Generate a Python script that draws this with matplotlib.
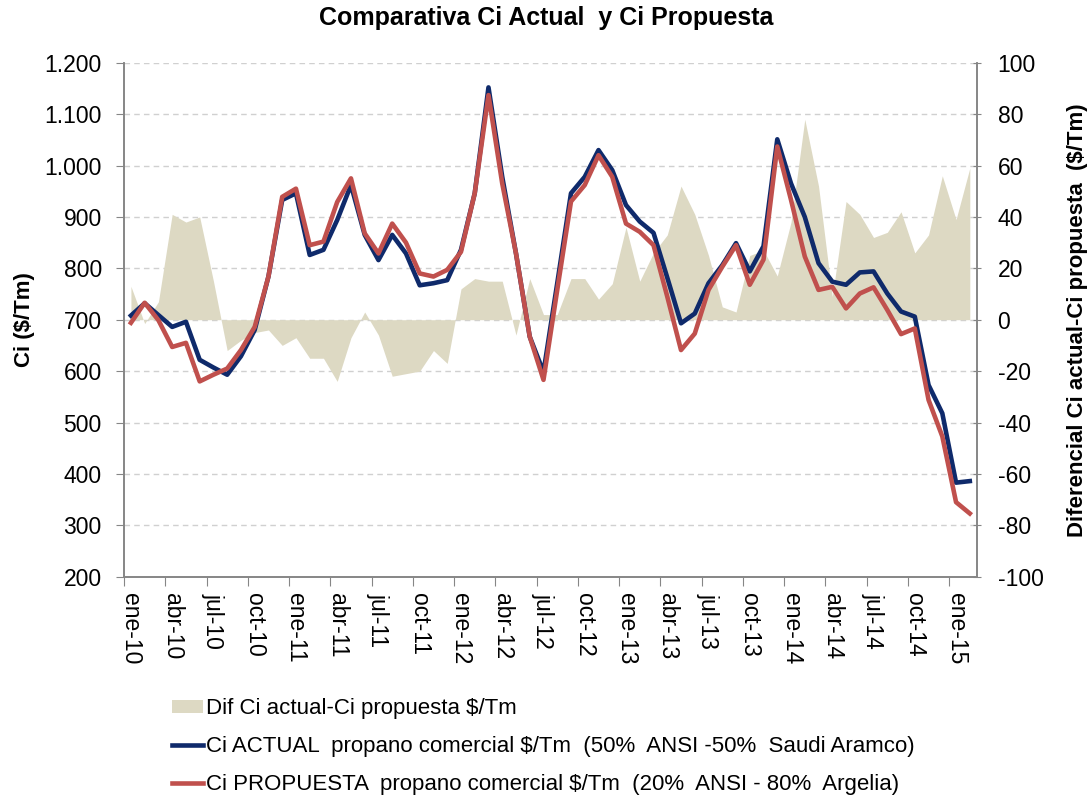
import matplotlib
matplotlib.use("Agg")
import matplotlib.pyplot as plt
from matplotlib.patches import Patch
from matplotlib.lines import Line2D
from matplotlib.ticker import FuncFormatter, MultipleLocator
import numpy as np

plt.rcParams['font.family'] = ['Liberation Sans', 'DejaVu Sans']
plt.rcParams['axes.unicode_minus'] = False

# etiquetas trimestrales del eje x (ene-10 ... ene-15)
tick_labels = ['ene-10', 'abr-10', 'jul-10', 'oct-10',
               'ene-11', 'abr-11', 'jul-11', 'oct-11',
               'ene-12', 'abr-12', 'jul-12', 'oct-12',
               'ene-13', 'abr-13', 'jul-13', 'oct-13',
               'ene-14', 'abr-14', 'jul-14', 'oct-14',
               'ene-15']

# datos mensuales ene-10 ... feb-15
ci_actual = [708, 732, 709, 686, 696, 622, 607, 593, 629, 680, 784, 933,
             946, 826, 836, 894, 962, 865, 816, 865, 829, 767, 771, 777,
             836, 946, 1152, 978, 829, 667, 598, 771, 946, 978, 1030, 991,
             923, 891, 869, 782, 693, 712, 771, 806, 849, 794, 843, 1051,
             965, 900, 810, 774, 768, 792, 794, 751, 716, 706, 573, 518,
             383, 386]

ci_propuesta = [694, 733, 699, 647, 655, 580, 593, 605, 641, 686, 784, 939,
                955, 845, 852, 929, 975, 868, 829, 887, 850, 790, 784, 797,
                832, 946, 1137, 965, 829, 667, 583, 758, 930, 962, 1020, 978,
                887, 871, 845, 745, 641, 673, 758, 803, 845, 768, 817, 1037,
                933, 823, 758, 764, 722, 751, 763, 719, 672, 683, 544, 473,
                345, 323]

dif = [13, -1.5, 7, 41, 38, 40, 15, -12, -8, -5, -4, -10,
       -7, -15, -15, -24, -7, 3, -6, -22, -21, -20, -12, -17,
       12, 16, 15, 15, -6, 16, 2, 2, 16, 16, 8, 14,
       36, 15, 26, 33, 52, 41, 25, 5, 3, 25, 27, 17,
       38, 78, 52, 9, 46, 41, 32, 34, 42, 26, 33, 56,
       39, 59]

x = np.arange(len(ci_actual)) + 0.5

c_azul = '#0F2A6B'
c_rojo = '#C0504D'
c_area = '#DDD9C3'
c_eje = '#868686'

fig = plt.figure(figsize=(10.92, 7.96), dpi=100)
ax = fig.add_axes([0.1136, 0.2755, 0.7808, 0.6457])
ax2 = ax.twinx()
ax.set_zorder(ax2.get_zorder() + 1)
ax.patch.set_visible(False)

# area de diferencia (eje derecho), detras de las lineas
ax2.fill_between(x, dif, 0, color=c_area, lw=0, zorder=2)
ax2.set_ylim(-100, 100)
ax2.yaxis.set_major_locator(MultipleLocator(20))
ax2.set_axisbelow(True)
ax2.grid(axis='y', color='#D0D0D0', ls=(0, (4, 3)), lw=1)

ax.plot(x, ci_actual, color=c_azul, lw=3.3, solid_joinstyle='round')
ax.plot(x, ci_propuesta, color=c_rojo, lw=3.3, solid_joinstyle='round')
ax.set_ylim(200, 1200)
ax.set_xlim(0, 62)
ax.yaxis.set_major_locator(MultipleLocator(100))
ax.yaxis.set_major_formatter(FuncFormatter(lambda v, p: f"{int(v):,}".replace(',', '.')))

ax.set_xticks(np.arange(0, 61, 3))
ax.set_xticklabels([])
ax.set_xticks(np.arange(0, 61, 3) + 0.5, minor=True)
ax.set_xticklabels(tick_labels, minor=True, rotation=270, fontsize=16.5, va='top', ha='center')
ax.tick_params(axis='x', which='minor', length=0, pad=12)
ax.tick_params(axis='x', which='major', length=6.5, color=c_eje, direction='out')
ax.tick_params(axis='y', length=6, color=c_eje, labelsize=16.5, pad=10)
ax2.tick_params(axis='y', length=6, color=c_eje, labelsize=16.5, pad=12, direction='inout')

for a in (ax, ax2):
    a.spines['top'].set_visible(False)
    for s in ('left', 'right', 'bottom'):
        a.spines[s].set_color(c_eje)
        a.spines[s].set_linewidth(1.2)

ax.set_ylabel('Ci ($/Tm)', fontsize=16, fontweight='bold')
ax.yaxis.set_label_coords(-0.105, 0.5)
ax2.set_ylabel('Diferencial Ci actual-Ci propuesta  ($/Tm)', fontsize=16, fontweight='bold')
ax2.yaxis.set_label_coords(1.106, 0.5)

fig.suptitle('Comparativa Ci Actual  y Ci Propuesta', fontsize=18, fontweight='bold',
             y=0.978, va='center')

handles = [Patch(facecolor=c_area, edgecolor='none'),
           Line2D([], [], color=c_azul, lw=3.3),
           Line2D([], [], color=c_rojo, lw=3.3)]
labels = ['Dif Ci actual-Ci propuesta $/Tm',
          'Ci ACTUAL  propano comercial $/Tm  (50%  ANSI -50%  Saudi Aramco)',
          'Ci PROPUESTA  propano comercial $/Tm  (20%  ANSI - 80%  Argelia)']
fig.legend(handles, labels, loc='upper left', bbox_to_anchor=(0.1575, 0.123),
           frameon=False, fontsize=16, borderpad=0, borderaxespad=0, handlelength=1.4,
           handletextpad=0.15, labelspacing=0.76, handleheight=0.55)

fig.savefig('out.png', dpi=100)
plt.close()
